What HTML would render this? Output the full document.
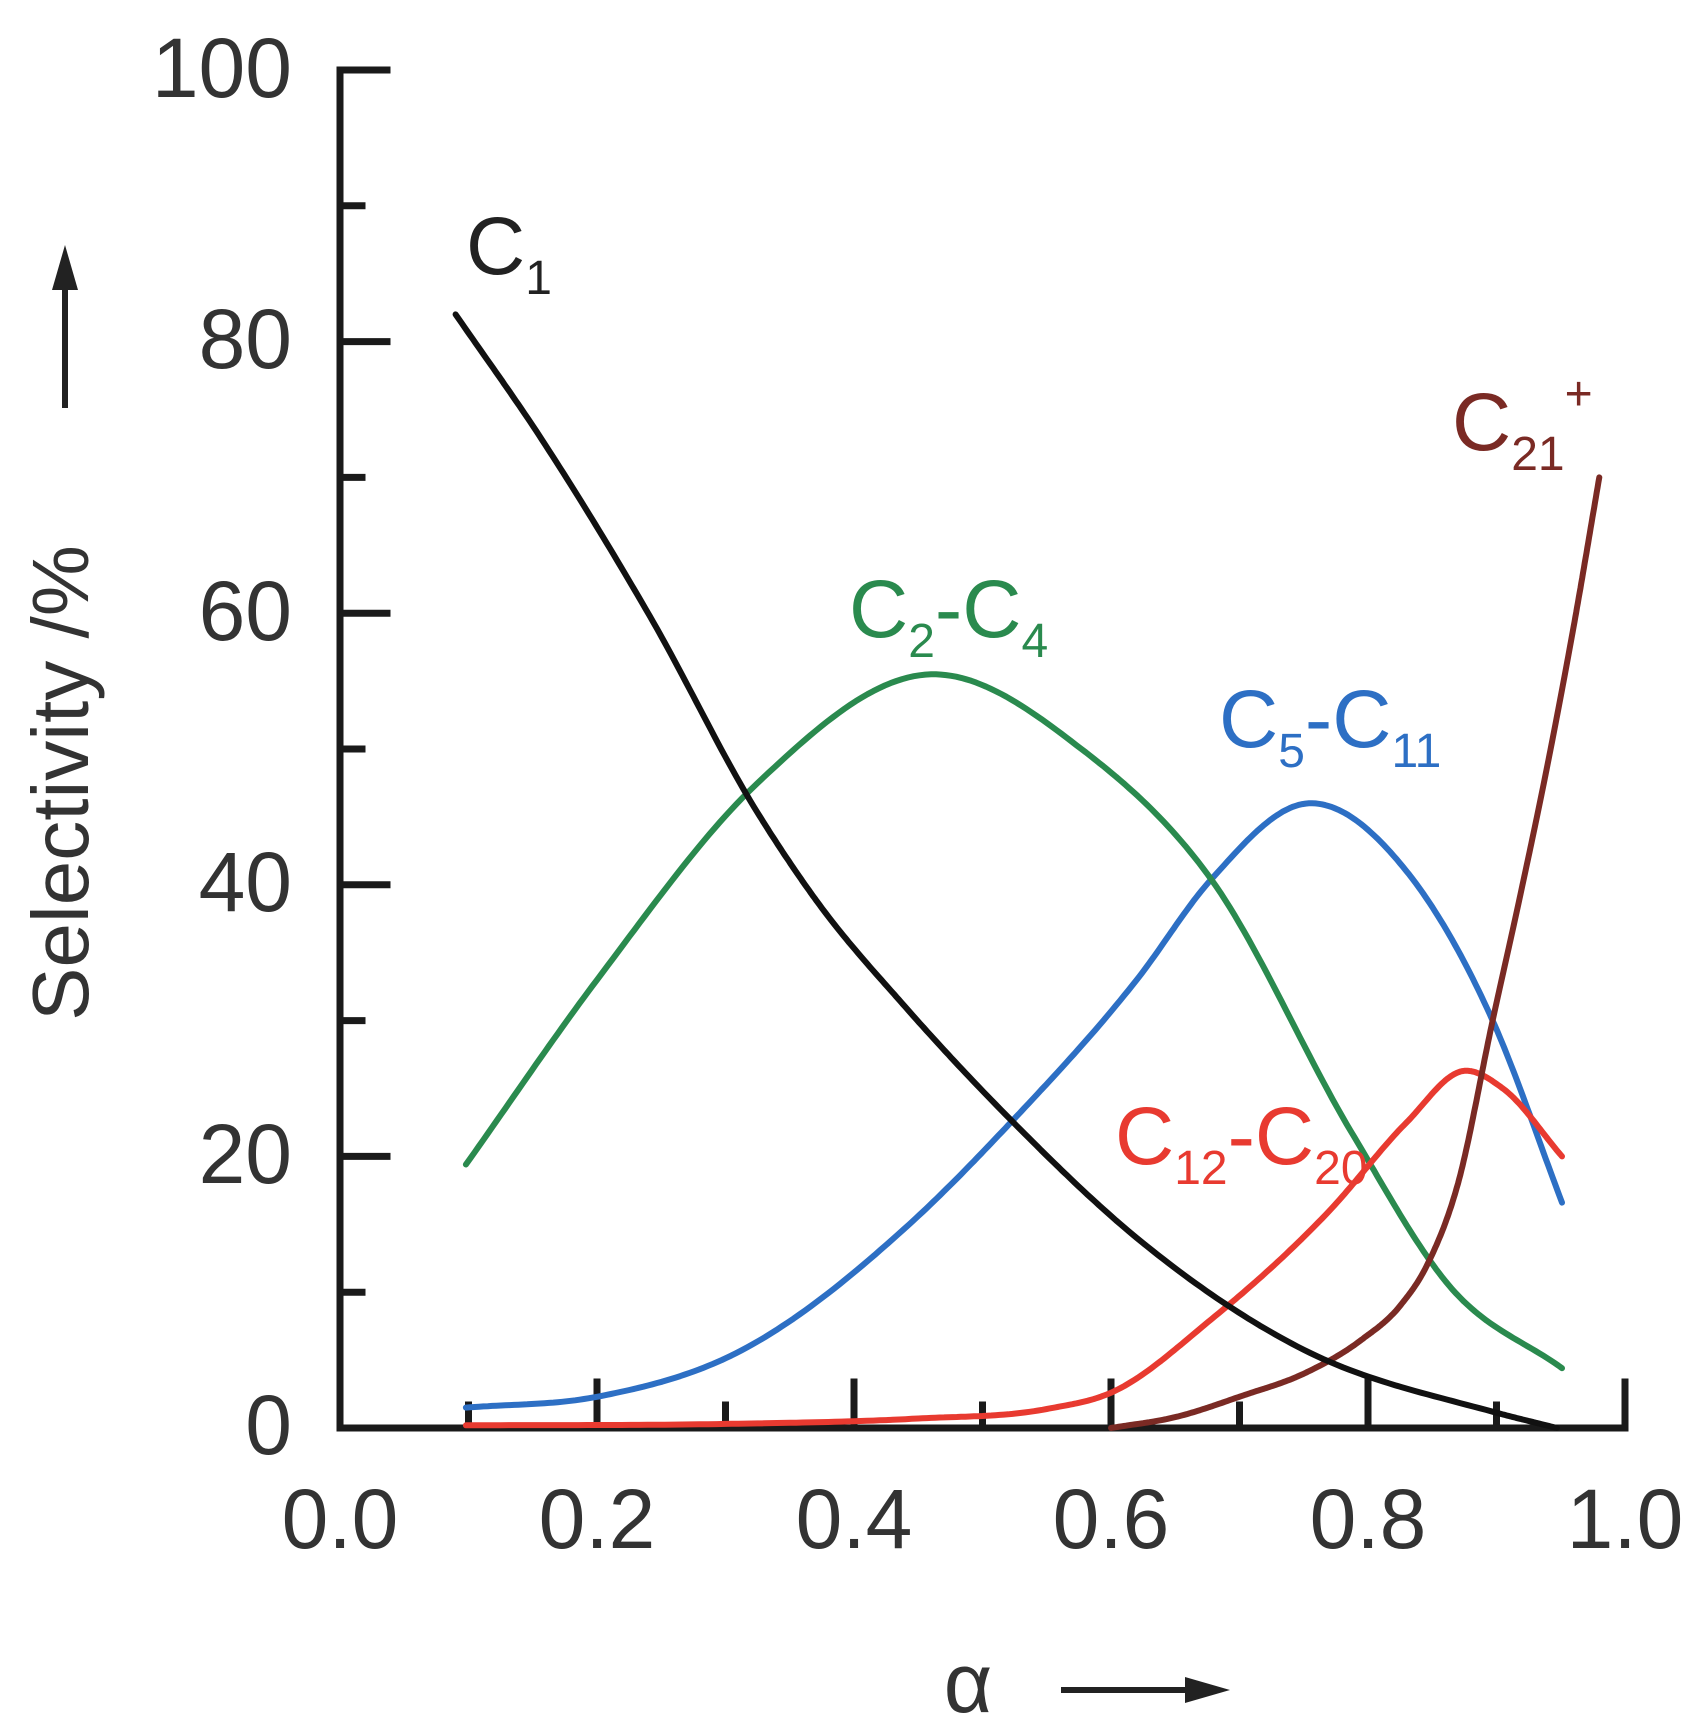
<!DOCTYPE html>
<html><head><meta charset="utf-8"><style>
html,body{margin:0;padding:0;background:#fff;}
svg{display:block;}
text{font-family:"Liberation Sans",sans-serif;}
</style></head><body>
<svg id="s" width="1697" height="1726" viewBox="0 0 1697 1726" xmlns="http://www.w3.org/2000/svg">
<g fill="#333" font-size="84" text-anchor="end">
<text x="292" y="97">100</text>
<text x="292" y="368">80</text>
<text x="292" y="640">60</text>
<text x="292" y="911">40</text>
<text x="292" y="1183">20</text>
<text x="292" y="1454">0</text>
</g>
<g fill="#333" font-size="84" text-anchor="middle">
<text x="340" y="1548">0.0</text>
<text x="597" y="1548">0.2</text>
<text x="854" y="1548">0.4</text>
<text x="1111" y="1548">0.6</text>
<text x="1368" y="1548">0.8</text>
<text x="1625" y="1548">1.0</text>
</g>
<text transform="translate(88,783) rotate(-90)" font-size="80" fill="#333" text-anchor="middle">Selectivity /%</text>
<line x1="65" y1="408" x2="65" y2="285" stroke="#222" stroke-width="6"/>
<polygon points="65,245 52,290 78,290" fill="#222"/>
<text x="968" y="1712" font-size="84" fill="#333" text-anchor="middle">α</text>
<line x1="1061" y1="1690" x2="1190" y2="1690" stroke="#222" stroke-width="6"/>
<polygon points="1230,1690 1185,1677 1185,1703" fill="#222"/>
<g id="axes" stroke="#1a1a1a" stroke-width="7" fill="none" stroke-linecap="square">
<polyline points="387,70 340,70 340,1428 1625,1428 1625,1382"/>
</g>
<g id="curves" fill="none" stroke-width="6" stroke-linejoin="round" stroke-linecap="round"></g>
<g font-size="82">
<text x="466" y="274" fill="#222">C<tspan font-size="48" dy="20">1</tspan></text>
<text x="849" y="637" fill="#2a8a4e">C<tspan font-size="48" dy="20">2</tspan><tspan dy="-20">-C</tspan><tspan font-size="48" dy="20">4</tspan></text>
<text x="1219" y="747" fill="#2d6fc4">C<tspan font-size="48" dy="20">5</tspan><tspan dy="-20">-C</tspan><tspan font-size="48" dy="20">11</tspan></text>
<text x="1115" y="1164" fill="#e83a30">C<tspan font-size="48" dy="20">12</tspan><tspan dy="-20">-C</tspan><tspan font-size="48" dy="20">20</tspan></text>
<text x="1452" y="450" fill="#7a2a24">C<tspan font-size="48" dy="20">21</tspan><tspan font-size="48" dy="-60">+</tspan></text>
</g>
</svg>
<script>
var NS="http://www.w3.org/2000/svg";
function X(a){return 340+a*1285;}function Y(v){return 1428-v*13.58;}
var ax=document.getElementById("axes");
function ln(x1,y1,x2,y2){var l=document.createElementNS(NS,"line");l.setAttribute("x1",x1);l.setAttribute("y1",y1);l.setAttribute("x2",x2);l.setAttribute("y2",y2);ax.appendChild(l);}
for(var v=10;v<100;v+=10){ln(340,Y(v),v%20==0?387:362,Y(v));}
for(var i=1;i<10;i++){ln(X(i/10),1428,X(i/10),i%2==0?1382:1405);}
function path(p,col){
 var n=p.length,m=[];
 for(var i=0;i<n;i++){
  if(i==0)m.push((p[1][1]-p[0][1])/(p[1][0]-p[0][0]));
  else if(i==n-1)m.push((p[n-1][1]-p[n-2][1])/(p[n-1][0]-p[n-2][0]));
  else{var h0=p[i][0]-p[i-1][0],h1=p[i+1][0]-p[i][0],d0=(p[i][1]-p[i-1][1])/h0,d1=(p[i+1][1]-p[i][1])/h1;m.push((d1*h0+d0*h1)/(h0+h1));}
 }
 var out=[];
 for(var i=0;i<n-1;i++){var h=p[i+1][0]-p[i][0];
  for(var s=0;s<30;s++){var t=s/30,t2=t*t,t3=t2*t;
   var y=(2*t3-3*t2+1)*p[i][1]+(t3-2*t2+t)*h*m[i]+(-2*t3+3*t2)*p[i+1][1]+(t3-t2)*h*m[i+1];
   out.push(X(p[i][0]+t*h).toFixed(1)+","+Y(y).toFixed(1));}}
 out.push(X(p[n-1][0]).toFixed(1)+","+Y(p[n-1][1]).toFixed(1));
 var e=document.createElementNS(NS,"polyline");e.setAttribute("points",out.join(" "));e.setAttribute("stroke",col);
 document.getElementById("curves").appendChild(e);
}
path([[0.098,1.5],[0.2,2.3],[0.308,5.5],[0.443,15],[0.523,22.6],[0.62,33],[0.678,40.4],[0.754,46],[0.83,41],[0.897,30],[0.951,16.6]],"#2d6fc4");
path([[0.098,19.4],[0.2,33],[0.325,47.5],[0.46,55.5],[0.577,50],[0.678,40.4],[0.787,21.8],[0.863,10.5],[0.951,4.4]],"#2a8a4e");
path([[0.098,0.2],[0.3,0.3],[0.45,0.7],[0.55,1.4],[0.6,2.6],[0.678,8],[0.77,16],[0.83,22.5],[0.875,26.3],[0.905,25],[0.951,20]],"#e83a30");
path([[0.6,0],[0.65,0.8],[0.703,2.4],[0.75,4],[0.795,6.5],[0.825,9],[0.846,12],[0.87,18],[0.897,30],[0.918,39],[0.939,48.5],[0.96,59],[0.98,70]],"#7a2a24");
path([[0.09,82],[0.157,72.8],[0.241,59.8],[0.325,45.3],[0.371,38.8],[0.44,31],[0.523,22.6],[0.62,14],[0.745,6],[0.897,1.2],[0.947,0]],"#111");
</script>
</body></html>
